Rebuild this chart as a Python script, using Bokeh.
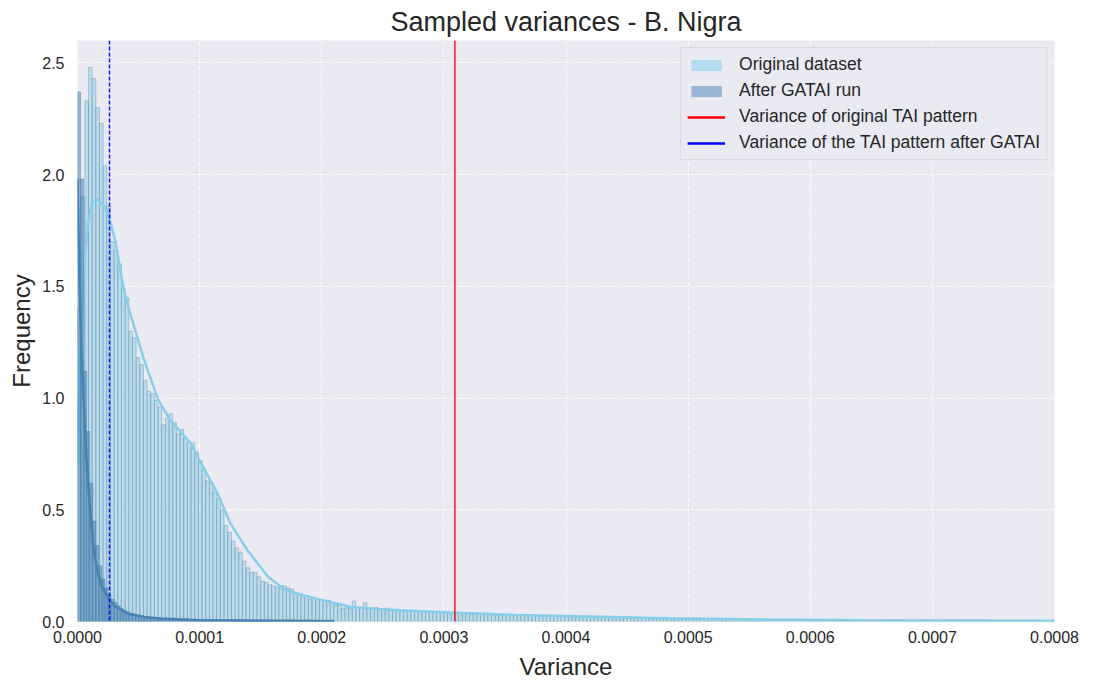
import numpy as np
from bokeh.plotting import figure
from bokeh.models import Span, Legend, LegendItem, ColumnDataSource, FixedTicker, NumeralTickFormatter, Range1d
from bokeh.embed import file_html
from bokeh.resources import INLINE

# ---------------- data ----------------
title = "Sampled variances - B. Nigra"
x_label = "Variance"
y_label = "Frequency"

orig_bin_width = 3e-6
orig_heights = [
    1.40, 1.90, 2.33, 2.48, 2.43, 2.30, 2.23, 2.04, 1.86, 1.70,
    1.66, 1.60, 1.49, 1.45, 1.30, 1.27, 1.18, 1.15, 1.08, 1.03,
    1.02, 0.99, 0.96, 0.88, 0.91, 0.93, 0.89, 0.84, 0.86, 0.82,
    0.80, 0.80, 0.76, 0.72, 0.68, 0.63, 0.62, 0.58, 0.55, 0.50,
    0.43, 0.40, 0.36, 0.33, 0.31, 0.27, 0.24, 0.22, 0.22, 0.20,
    0.18, 0.175, 0.165, 0.16, 0.155, 0.16, 0.16, 0.15, 0.145, 0.13,
    0.12, 0.11, 0.115, 0.10, 0.105, 0.10, 0.098, 0.094, 0.095, 0.085,
    0.074, 0.072, 0.060, 0.062, 0.058, 0.092, 0.063, 0.062, 0.084, 0.062,
    0.060, 0.063, 0.058, 0.057, 0.060, 0.055, 0.052, 0.050, 0.053, 0.048,
    0.046, 0.047, 0.045, 0.044, 0.046, 0.043, 0.042, 0.044, 0.041, 0.040,
    0.042, 0.039, 0.040, 0.038, 0.037, 0.039, 0.036, 0.035, 0.034, 0.036,
    0.033, 0.034, 0.032, 0.031, 0.033, 0.030, 0.031, 0.029, 0.030, 0.028,
    0.029, 0.027, 0.028, 0.026, 0.027, 0.025, 0.026, 0.025, 0.024, 0.025,
    0.023, 0.024, 0.023, 0.022, 0.023, 0.021, 0.022, 0.021, 0.020, 0.021,
    0.020, 0.019, 0.020, 0.018, 0.019, 0.018, 0.017, 0.018, 0.017, 0.016,
    0.017, 0.016, 0.015, 0.016, 0.015, 0.014, 0.015, 0.014, 0.013, 0.014,
    0.013, 0.013, 0.012, 0.013, 0.012, 0.012, 0.011, 0.012, 0.011, 0.011,
    0.011, 0.010, 0.011, 0.010, 0.010, 0.0095, 0.010, 0.0095, 0.009, 0.0095,
    0.009, 0.009, 0.0085, 0.009, 0.0085, 0.008, 0.0085, 0.008, 0.008, 0.0078,
    0.0075, 0.0078, 0.0072, 0.0075, 0.007, 0.0072, 0.0068, 0.007, 0.0066, 0.0068,
    0.0064, 0.0066, 0.0062, 0.0064, 0.006, 0.0062, 0.0058, 0.006, 0.0057, 0.0058,
    0.0055, 0.0056, 0.0054, 0.0055, 0.0052, 0.0053, 0.0051, 0.0052, 0.005, 0.0051,
    0.0049, 0.005, 0.0048, 0.0049, 0.0047, 0.0048, 0.0046, 0.0047, 0.0045, 0.0046,
    0.0044, 0.0045, 0.0043, 0.0044, 0.0042, 0.0043, 0.0041, 0.0042, 0.004, 0.0041,
    0.0039, 0.004, 0.0038, 0.0039, 0.0037, 0.0038, 0.0036, 0.0037, 0.0035, 0.0036,
    0.0034, 0.0035, 0.0033, 0.0034, 0.0032, 0.0033, 0.0031, 0.0032, 0.0031, 0.0030,
    0.0031, 0.0030, 0.0029, 0.0030, 0.0029, 0.0028, 0.0029,
]

after_bin_width = 2.5e-6
after_heights = [
    2.37, 1.98, 1.12, 0.85, 0.62, 0.45, 0.34, 0.25, 0.19, 0.15,
    0.12, 0.10, 0.085, 0.070, 0.058, 0.050, 0.043, 0.037, 0.032, 0.028,
    0.025, 0.022, 0.020, 0.018, 0.017, 0.015, 0.014, 0.013, 0.012, 0.012,
    0.011, 0.011, 0.010, 0.010, 0.0098, 0.0096, 0.0094, 0.0092, 0.009, 0.0088,
    0.0087, 0.0086, 0.0085, 0.0084, 0.0083, 0.0082, 0.0081, 0.008, 0.0079, 0.0078,
    0.0077, 0.0076, 0.0075, 0.0075, 0.0074, 0.0073, 0.0072, 0.0072, 0.0071, 0.007,
    0.007, 0.0069, 0.0068, 0.0068, 0.0067, 0.0067, 0.0066, 0.0066, 0.0065, 0.0065,
    0.0064, 0.0064, 0.0063, 0.0063, 0.0062, 0.0062, 0.0061, 0.0061, 0.006, 0.006,
    0.006, 0.0059, 0.0059, 0.0058,
]

orig_kde_x = [0.0, 1.5e-6, 3.3e-6, 5.7e-6, 9.0e-6, 1.23e-5, 1.64e-5, 2.13e-5, 2.54e-5,
              3.11e-5, 3.77e-5, 4.2e-5, 5.4e-5, 6.55e-5, 7.6e-5, 9.25e-5, 1.03e-4,
              1.15e-4, 1.25e-4, 1.39e-4, 1.56e-4, 1.69e-4, 1.77e-4, 1.97e-4, 2.24e-4,
              2.51e-4, 3.05e-4, 3.6e-4, 4.28e-4, 4.83e-4, 5.65e-4, 6.47e-4, 7.46e-4, 8.0e-4]
orig_kde_y = [0.70, 1.10, 1.35, 1.62, 1.80, 1.88, 1.89, 1.86, 1.82,
              1.70, 1.49, 1.40, 1.18, 1.00, 0.90, 0.80, 0.69,
              0.57, 0.44, 0.32, 0.20, 0.145, 0.13, 0.10, 0.065,
              0.054, 0.040, 0.029, 0.021, 0.014, 0.009, 0.006, 0.004, 0.0035]

after_kde_x = [0.0, 1.5e-6, 3.3e-6, 5.0e-6, 7.4e-6, 1.06e-5, 1.3e-5, 1.64e-5, 2.05e-5,
               2.46e-5, 3.0e-5, 4.1e-5, 5.5e-5, 6.8e-5, 1.0e-4, 1.4e-4, 1.8e-4, 2.1e-4]
after_kde_y = [1.98, 1.55, 1.20, 0.99, 0.72, 0.48, 0.33, 0.22, 0.15,
               0.11, 0.07, 0.036, 0.020, 0.013, 0.006, 0.003, 0.002, 0.001]

var_original = 0.000309
var_after = 0.0000262

x_ticks = [0.0, 0.0001, 0.0002, 0.0003, 0.0004, 0.0005, 0.0006, 0.0007, 0.0008]
y_ticks = [0.0, 0.5, 1.0, 1.5, 2.0, 2.5]

series_labels = ["Original dataset", "After GATAI run",
                 "Variance of original TAI pattern",
                 "Variance of the TAI pattern after GATAI"]

# ---------------- plot ----------------
FONT = "Liberation Sans"
TXT = "#262626"

p = figure(width=1093, height=684, output_backend="svg", toolbar_location=None,
           x_range=Range1d(0, 0.0008), y_range=Range1d(0, 2.6),
           min_border_left=77, min_border_right=39, min_border_top=40, min_border_bottom=63,
           background_fill_color="#EAEAF2", border_fill_color="white", outline_line_color=None)

p.title.text = title
p.title.align = "center"
p.title.text_font = FONT
p.title.text_font_size = "27px"
p.title.text_font_style = "normal"
p.title.text_color = TXT
p.title.offset = 0
p.title.standoff = 7

for ax in (p.xaxis[0], p.yaxis[0]):
    ax.axis_line_color = None
    ax.major_tick_line_color = None
    ax.minor_tick_line_color = None
    ax.major_tick_out = 0
    ax.major_tick_in = 0
    ax.major_label_text_font = FONT
    ax.major_label_text_font_size = "16px"
    ax.major_label_text_color = TXT
    ax.axis_label_text_font = FONT
    ax.axis_label_text_font_size = "24px"
    ax.axis_label_text_font_style = "normal"
    ax.axis_label_text_color = TXT

p.xaxis.axis_label = x_label
p.yaxis.axis_label = y_label
p.xaxis.ticker = FixedTicker(ticks=x_ticks)
p.yaxis.ticker = FixedTicker(ticks=y_ticks)
p.xaxis.formatter = NumeralTickFormatter(format="0.0000")
p.yaxis.formatter = NumeralTickFormatter(format="0.0")
p.xaxis.major_label_standoff = 9
p.yaxis.major_label_standoff = 13
p.xaxis.axis_label_standoff = 7
p.yaxis.axis_label_standoff = 4

p.grid.grid_line_color = "white"
p.grid.grid_line_alpha = 0.9
p.grid.grid_line_dash = "4 2"
p.grid.grid_line_width = 1

# histograms
oh = np.array(orig_heights)
o_left = np.arange(len(oh)) * orig_bin_width
src_o = ColumnDataSource(dict(left=o_left, right=o_left + orig_bin_width, top=oh))
r_o = p.quad(left="left", right="right", bottom=0, top="top", source=src_o,
             fill_color="#87CEEB", fill_alpha=0.5, line_color="#5F7F90", line_alpha=0.5, line_width=0.7)

p.line(orig_kde_x, orig_kde_y, line_color="#87CEEB", line_width=2.5)

ah = np.array(after_heights)
a_left = np.arange(len(ah)) * after_bin_width
src_a = ColumnDataSource(dict(left=a_left, right=a_left + after_bin_width, top=ah))
r_a = p.quad(left="left", right="right", bottom=0, top="top", source=src_a,
             fill_color="#4682B4", fill_alpha=0.55, line_color="#3F6F96", line_alpha=0.5, line_width=0.7)

p.line(after_kde_x, after_kde_y, line_color="#4682B4", line_width=2.5)

p.add_layout(Span(location=var_original, dimension="height", line_color="red",
                  line_alpha=0.85, line_width=1.6))
p.add_layout(Span(location=var_after, dimension="height", line_color="blue",
                  line_alpha=0.9, line_width=1.5, line_dash="4 2"))

# legend proxies (draw nothing)
nan = [float("nan")]
g1 = p.quad(left=nan, right=nan, bottom=nan, top=nan, fill_color="#87CEEB", fill_alpha=0.55, line_color=None)
g2 = p.quad(left=nan, right=nan, bottom=nan, top=nan, fill_color="#4682B4", fill_alpha=0.5, line_color=None)
g3 = p.line(x=nan, y=nan, line_color="red", line_width=2.5)
g4 = p.line(x=nan, y=nan, line_color="blue", line_width=2.5)

legend = Legend(items=[LegendItem(label=series_labels[0], renderers=[g1]),
                       LegendItem(label=series_labels[1], renderers=[g2]),
                       LegendItem(label=series_labels[2], renderers=[g3]),
                       LegendItem(label=series_labels[3], renderers=[g4])],
                location="top_right")
legend.margin = 7
legend.padding = 6
legend.spacing = 5
legend.glyph_width = 38
legend.glyph_height = 14
legend.label_height = 20
legend.label_standoff = 14
legend.label_text_font = FONT
legend.label_text_font_size = "17.5px"
legend.label_text_color = TXT
legend.background_fill_color = "#EAEAF2"
legend.background_fill_alpha = 0.8
legend.border_line_color = "#CCCCCC"
legend.border_line_width = 1
p.add_layout(legend)

open("out.html", "w").write(file_html(p, INLINE))
